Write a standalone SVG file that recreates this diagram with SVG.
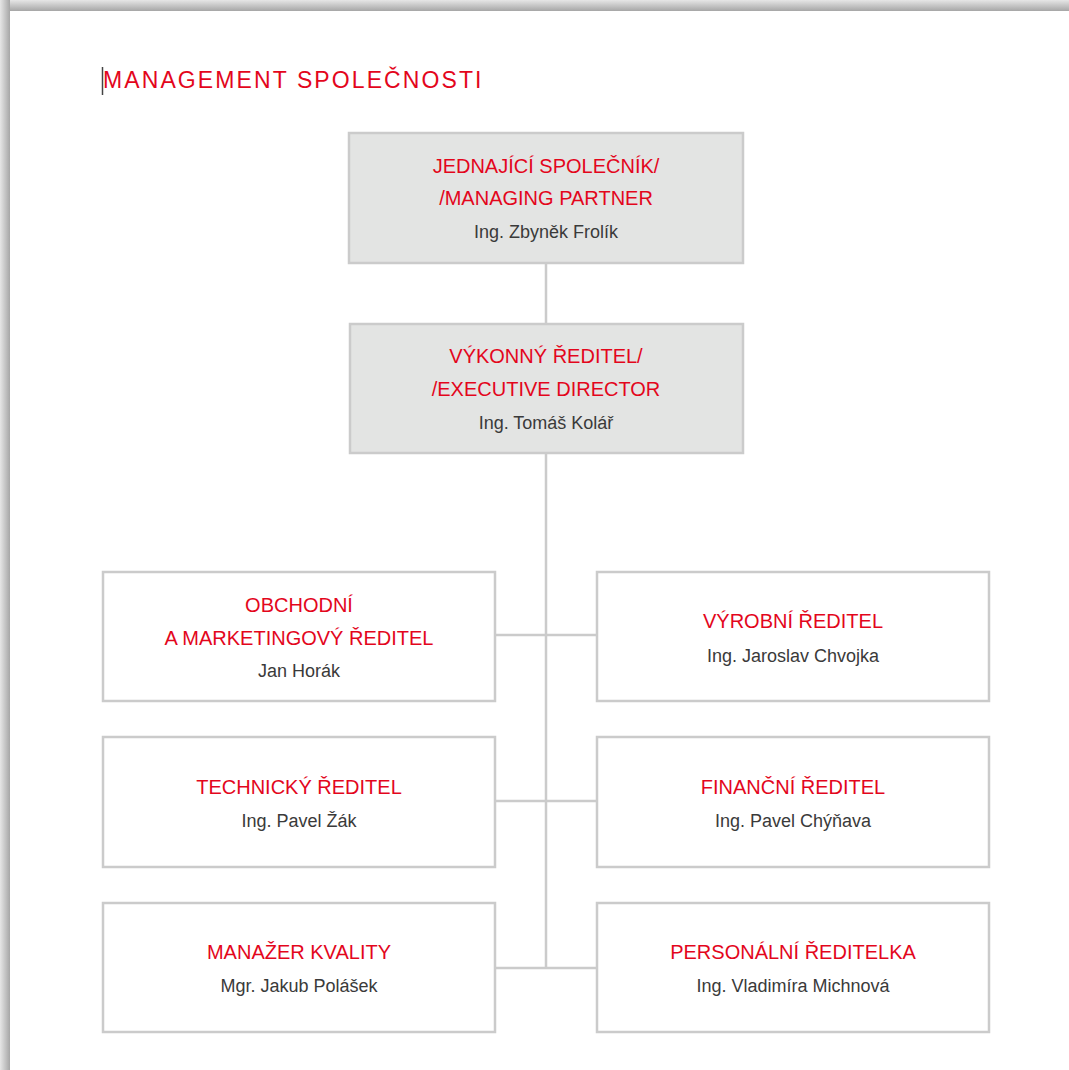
<svg xmlns="http://www.w3.org/2000/svg" width="1069" height="1070" viewBox="0 0 1069 1070">
<defs>
<linearGradient id="shT" x1="0" y1="0" x2="0" y2="1"><stop offset="0" stop-color="#e6e6e6"/><stop offset="1" stop-color="#a6a6a6"/></linearGradient>
<linearGradient id="shL" x1="0" y1="0" x2="1" y2="0"><stop offset="0" stop-color="#e6e6e6"/><stop offset="1" stop-color="#a6a6a6"/></linearGradient>
<style>
.box{fill:#ffffff;stroke:#cbcbcb;stroke-width:2.5}
.boxg{fill:#e3e4e3;stroke:#cbcbcb;stroke-width:2.5}
.con{stroke:#cbcbcb;stroke-width:2.5;fill:none}
.h{font-family:"Liberation Sans",Arial,sans-serif;font-size:20px;fill:#e3061c;text-anchor:middle}
.n{font-family:"Liberation Sans",Arial,sans-serif;font-size:18px;fill:#3a3a3a;text-anchor:middle}
</style>
</defs>
<rect x="0" y="0" width="1069" height="1070" fill="#ffffff"/>
<rect x="0" y="0" width="1069" height="11" fill="url(#shT)"/>
<rect x="0" y="0" width="10" height="1070" fill="url(#shL)"/>
<text x="103" y="88" font-family="'Liberation Sans',Arial,sans-serif" font-size="23" letter-spacing="2.1" fill="#e3061c">MANAGEMENT SPOLEČNOSTI</text>
<line x1="102.5" y1="67" x2="102.5" y2="95" stroke="#444" stroke-width="1.5"/>
<g id="connectors">
<line class="con" x1="546" y1="263" x2="546" y2="324"/>
<line class="con" x1="546" y1="453" x2="546" y2="968"/>
<line class="con" x1="495" y1="635" x2="597" y2="635"/>
<line class="con" x1="495" y1="801" x2="597" y2="801"/>
<line class="con" x1="495" y1="968" x2="597" y2="968"/>
</g>
<g id="managing-partner">
<rect class="boxg" x="349" y="133" width="394" height="130"/>
<text class="h" x="546" y="173">JEDNAJÍCÍ SPOLEČNÍK/</text>
<text class="h" x="546" y="205">/MANAGING PARTNER</text>
<text class="n" x="546" y="238">Ing. Zbyněk Frolík</text>
</g>
<g id="executive-director">
<rect class="boxg" x="350" y="324" width="393" height="129"/>
<text class="h" x="546" y="363">VÝKONNÝ ŘEDITEL/</text>
<text class="h" x="546" y="396">/EXECUTIVE DIRECTOR</text>
<text class="n" x="546" y="429">Ing. Tomáš Kolář</text>
</g>
<g id="obchodni">
<rect class="box" x="103" y="572" width="392" height="129"/>
<text class="h" x="299" y="612">OBCHODNÍ</text>
<text class="h" x="299" y="645">A MARKETINGOVÝ ŘEDITEL</text>
<text class="n" x="299" y="677">Jan Horák</text>
</g>
<g id="vyrobni">
<rect class="box" x="597" y="572" width="392" height="129"/>
<text class="h" x="793" y="628">VÝROBNÍ ŘEDITEL</text>
<text class="n" x="793" y="662">Ing. Jaroslav Chvojka</text>
</g>
<g id="technicky">
<rect class="box" x="103" y="737" width="392" height="130"/>
<text class="h" x="299" y="794">TECHNICKÝ ŘEDITEL</text>
<text class="n" x="299" y="827">Ing. Pavel Žák</text>
</g>
<g id="financni">
<rect class="box" x="597" y="737" width="392" height="130"/>
<text class="h" x="793" y="794">FINANČNÍ ŘEDITEL</text>
<text class="n" x="793" y="827">Ing. Pavel Chýňava</text>
</g>
<g id="kvalita">
<rect class="box" x="103" y="903" width="392" height="129"/>
<text class="h" x="299" y="959">MANAŽER KVALITY</text>
<text class="n" x="299" y="992">Mgr. Jakub Polášek</text>
</g>
<g id="personalni">
<rect class="box" x="597" y="903" width="392" height="129"/>
<text class="h" x="793" y="959">PERSONÁLNÍ ŘEDITELKA</text>
<text class="n" x="793" y="992">Ing. Vladimíra Michnová</text>
</g>
</svg>
